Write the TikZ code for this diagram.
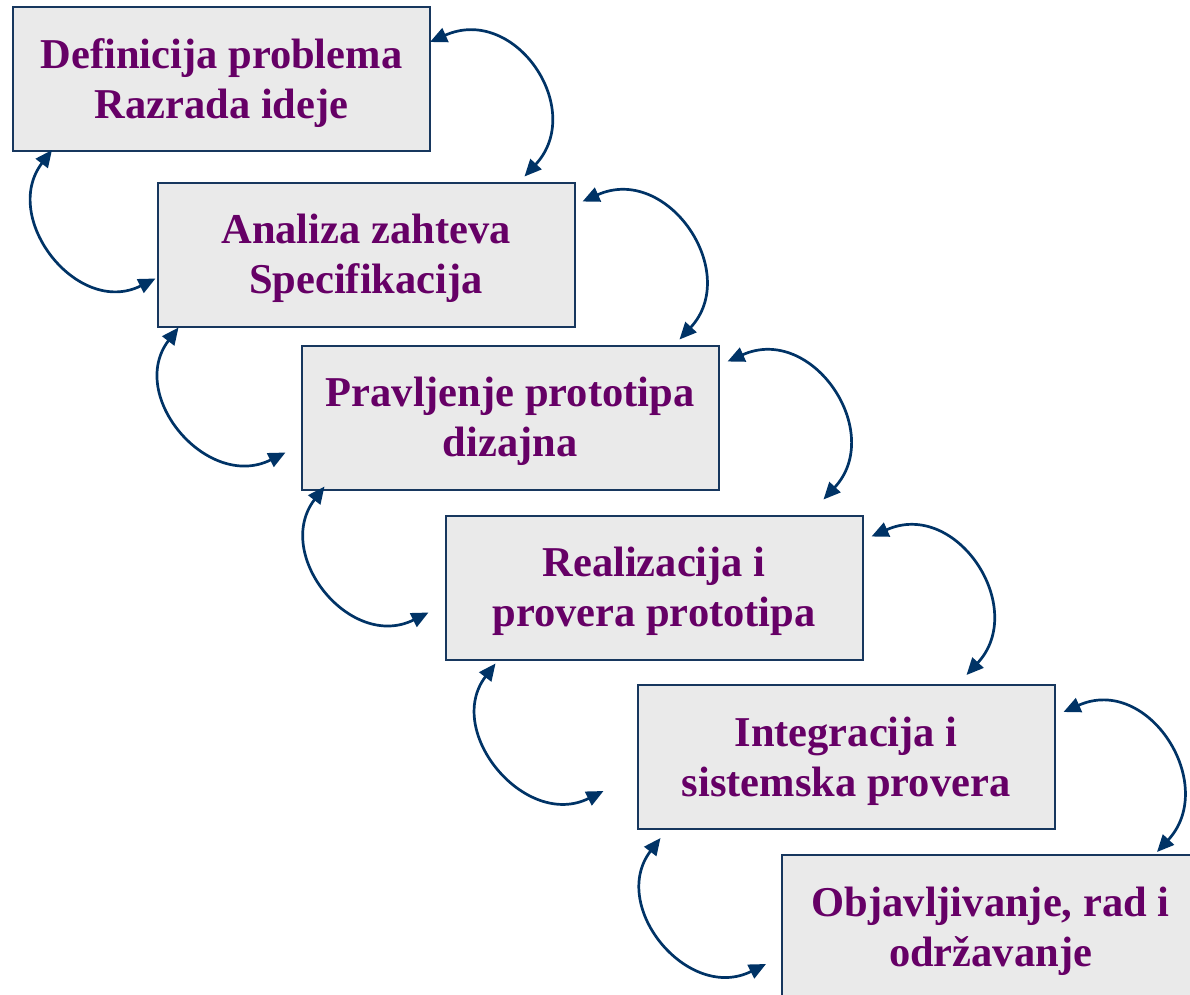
\documentclass[tikz,border=0pt]{standalone}
\usepackage{fontspec}
\setmainfont{Liberation Serif}
\usetikzlibrary{arrows.meta}
\definecolor{boxfill}{RGB}{234,234,234}
\definecolor{boxline}{RGB}{23,55,94}
\definecolor{arrowc}{RGB}{0,51,102}
\definecolor{txt}{RGB}{102,0,102}
\begin{document}
\begin{tikzpicture}[x=1pt,y=1pt,
  stage/.style={draw=boxline, fill=boxfill, line width=2pt,
    minimum width=417pt, minimum height=144pt, inner sep=0pt},
  caption/.style={text=txt, font=\fontsize{42.5}{50}\selectfont\bfseries,
    align=center, inner sep=0pt},
  loop/.style={draw=arrowc, line width=2.7pt,
    {Triangle[length=17pt,width=15pt]}-{Triangle[length=17pt,width=15pt]}},
]
\useasboundingbox (0,0) rectangle (1190,-994);
\clip (0,0) rectangle (1190,-994);

% stage boxes
\node[stage] (b1) at (221.5,-79)  {};
\node[stage] (b2) at (366,-254.5) {};
\node[stage] (b3) at (510,-417.5) {};
\node[stage] (b4) at (654,-587.5) {};
\node[stage] (b5) at (846,-757)   {};
\node[stage] (b6) at (990.5,-927) {};

% stage titles
\node[caption] (t1) at ([yshift=-4pt]b1.center) {Definicija problema\\Razrada ideje};
\node[caption] (t2) at ([yshift=-4pt]b2.center) {Analiza zahteva\\Specifikacija};
\node[caption] (t3) at ([yshift=-4pt]b3.center) {Pravljenje prototipa\\dizajna};
\node[caption] (t4) at ([yshift=-4pt]b4.center) {Realizacija i\\provera prototipa};
\node[caption] (t5) at ([yshift=-4pt]b5.center) {Integracija i\\sistemska provera};
\node[caption] (t6) at ([yshift=-4pt]b6.center) {Objavljivanje, rad i\\održavanje};

% feedback loops on the right side
\draw[loop] ([shift={(-1,-36)}]b1.north east) .. controls +(85,38) and +(62,67) .. ([shift={(-51,5)}]b2.north east);
\draw[loop] ([shift={(7,-20)}]b2.north east)  .. controls +(85,38) and +(62,67) .. ([shift={(-40,5)}]b3.north east);
\draw[loop] ([shift={(8,-17)}]b3.north east)  .. controls +(85,38) and +(62,67) .. ([shift={(-40,15)}]b4.north east);
\draw[loop] ([shift={(8,-22)}]b4.north east)  .. controls +(85,38) and +(62,67) .. ([shift={(-89,9)}]b5.north east);
\draw[loop] ([shift={(8,-28)}]b5.north east)  .. controls +(85,38) and +(62,67) .. ([shift={(376,2)}]b6.north west);

% feedback loops on the left side
\draw[loop] ([shift={(40,2)}]b1.south west)  .. controls +(-52,-68) and +(-78,-39) .. ([shift={(-1,49)}]b2.south west);
\draw[loop] ([shift={(22,0)}]b2.south west)  .. controls +(-52,-68) and +(-78,-39) .. ([shift={(-15,38)}]b3.south west);
\draw[loop] ([shift={(24,4)}]b3.south west)  .. controls +(-52,-68) and +(-78,-39) .. ([shift={(-16,48)}]b4.south west);
\draw[loop] ([shift={(51,-3)}]b4.south west) .. controls +(-52,-68) and +(-78,-39) .. ([shift={(-33,39)}]b5.south west);
\draw[loop] ([shift={(24,-8)}]b5.south west) .. controls +(-52,-68) and +(-78,-39) .. ([shift={(-15,36)}]b6.south west);
\end{tikzpicture}
\end{document}
